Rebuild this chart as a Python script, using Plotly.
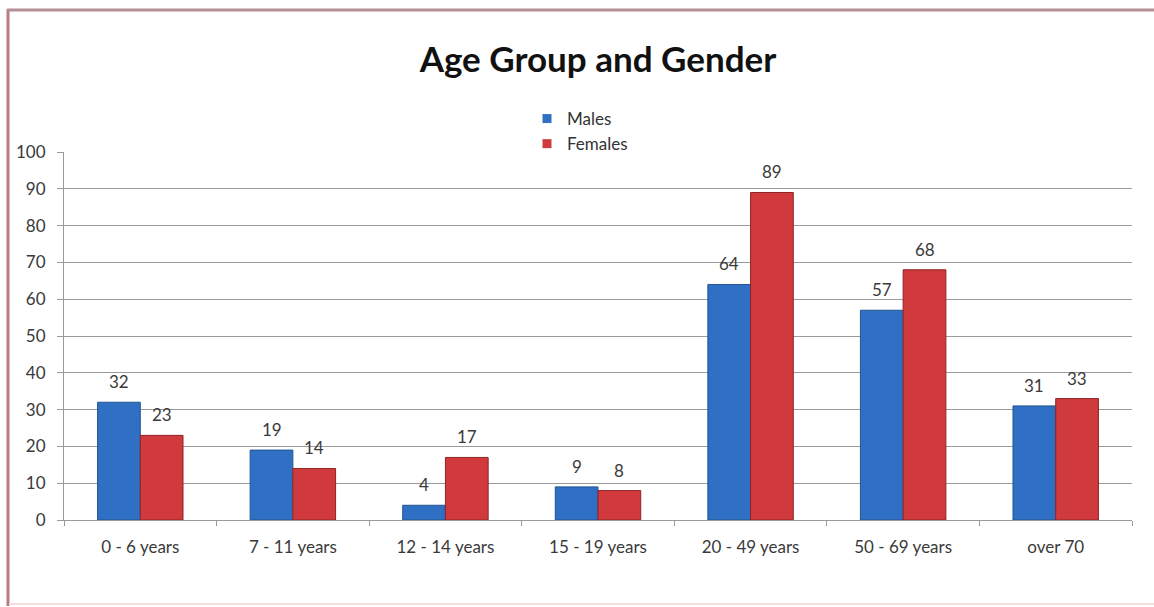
import plotly.graph_objects as go

categories = ["0 - 6 years", "7 - 11 years", "12 - 14 years", "15 - 19 years",
              "20 - 49 years", "50 - 69 years", "over 70"]
males = [32, 19, 4, 9, 64, 57, 31]
females = [23, 14, 17, 8, 89, 68, 33]
y_ticks = list(range(0, 101, 10))

W, H = 1154, 607
L, R, T, B = 64, 22, 152, 87
FONT = "Lato, 'Open Sans', sans-serif"
TXT = "#3a3a3a"

pw = W - L - R
ph = H - T - B
def px_x(p):
    return (p - L) / pw
def px_y(p):
    return (H - B - p) / ph

BLUE, BLUE_E = "#2f6fc4", "#24558f"
RED, RED_E = "#d03a3c", "#8e2426"

fig = go.Figure()
fig.add_trace(go.Bar(name="Males", x=categories, y=males, showlegend=False,
                     marker=dict(color=BLUE, line=dict(color=BLUE_E, width=1))))
fig.add_trace(go.Bar(name="Females", x=categories, y=females, showlegend=False,
                     marker=dict(color=RED, line=dict(color=RED_E, width=1))))
# legend entries with small square keys
fig.add_trace(go.Scatter(name="Males", x=[None], y=[None], mode="markers",
                         marker=dict(symbol="square", size=9, color=BLUE)))
fig.add_trace(go.Scatter(name="Females", x=[None], y=[None], mode="markers",
                         marker=dict(symbol="square", size=9, color=RED)))

# data labels
bar_half = pw / len(categories) * (1 - 0.44) / 4
for c, m, f in zip(categories, males, females):
    fig.add_annotation(x=c, y=m, text=str(m), showarrow=False, yanchor="bottom",
                       xshift=-bar_half, yshift=8, font=dict(size=17, color=TXT, family=FONT))
    fig.add_annotation(x=c, y=f, text=str(f), showarrow=False, yanchor="bottom",
                       xshift=bar_half, yshift=8, font=dict(size=17, color=TXT, family=FONT))

fig.update_layout(
    width=W, height=H,
    margin=dict(l=L, r=R, t=T, b=B),
    paper_bgcolor="white", plot_bgcolor="white",
    font=dict(family=FONT, color=TXT, size=17),
    title=dict(text="<b>Age Group and Gender</b>", x=0.5, xref="paper", xanchor="center",
               y=1 - 60 / H, yanchor="middle",
               font=dict(size=35, color="#111111", family=FONT)),
    barmode="group", bargap=0.44, bargroupgap=0.0,
    showlegend=True,
    legend=dict(x=px_x(527), y=px_y(101), xanchor="left", yanchor="top",
                orientation="v", font=dict(size=17, color="#333333", family=FONT),
                tracegroupgap=0, bgcolor="rgba(0,0,0,0)"),
    xaxis=dict(showgrid=False, showline=True, linecolor="#9a9a9a", linewidth=1,
               ticks="outside", tickson="boundaries", ticklen=5, tickcolor="#9a9a9a",
               ticklabelstandoff=12,
               tickfont=dict(size=17, color=TXT, family=FONT)),
    yaxis=dict(range=[0, 100], tickvals=y_ticks, showgrid=True, gridcolor="#9a9a9a",
               gridwidth=1, showline=True, linecolor="#9a9a9a", linewidth=1,
               ticks="outside", ticklen=6, tickcolor="#9a9a9a", zeroline=False,
               ticklabelstandoff=8,
               tickfont=dict(size=17, color=TXT, family=FONT)),
    shapes=[
        dict(type="line", xref="paper", yref="paper",
             x0=px_x(8), x1=px_x(8), y0=px_y(606), y1=px_y(9),
             line=dict(color="#b87c82", width=3), layer="above"),
        dict(type="line", xref="paper", yref="paper",
             x0=px_x(7), x1=px_x(1160), y0=px_y(10), y1=px_y(10),
             line=dict(color="#b58e93", width=3), layer="above"),
        dict(type="line", xref="paper", yref="paper",
             x0=px_x(9), x1=px_x(1160), y0=px_y(604), y1=px_y(604),
             line=dict(color="#f6dede", width=2), layer="above"),
    ],
)

fig.write_html("out.html")
